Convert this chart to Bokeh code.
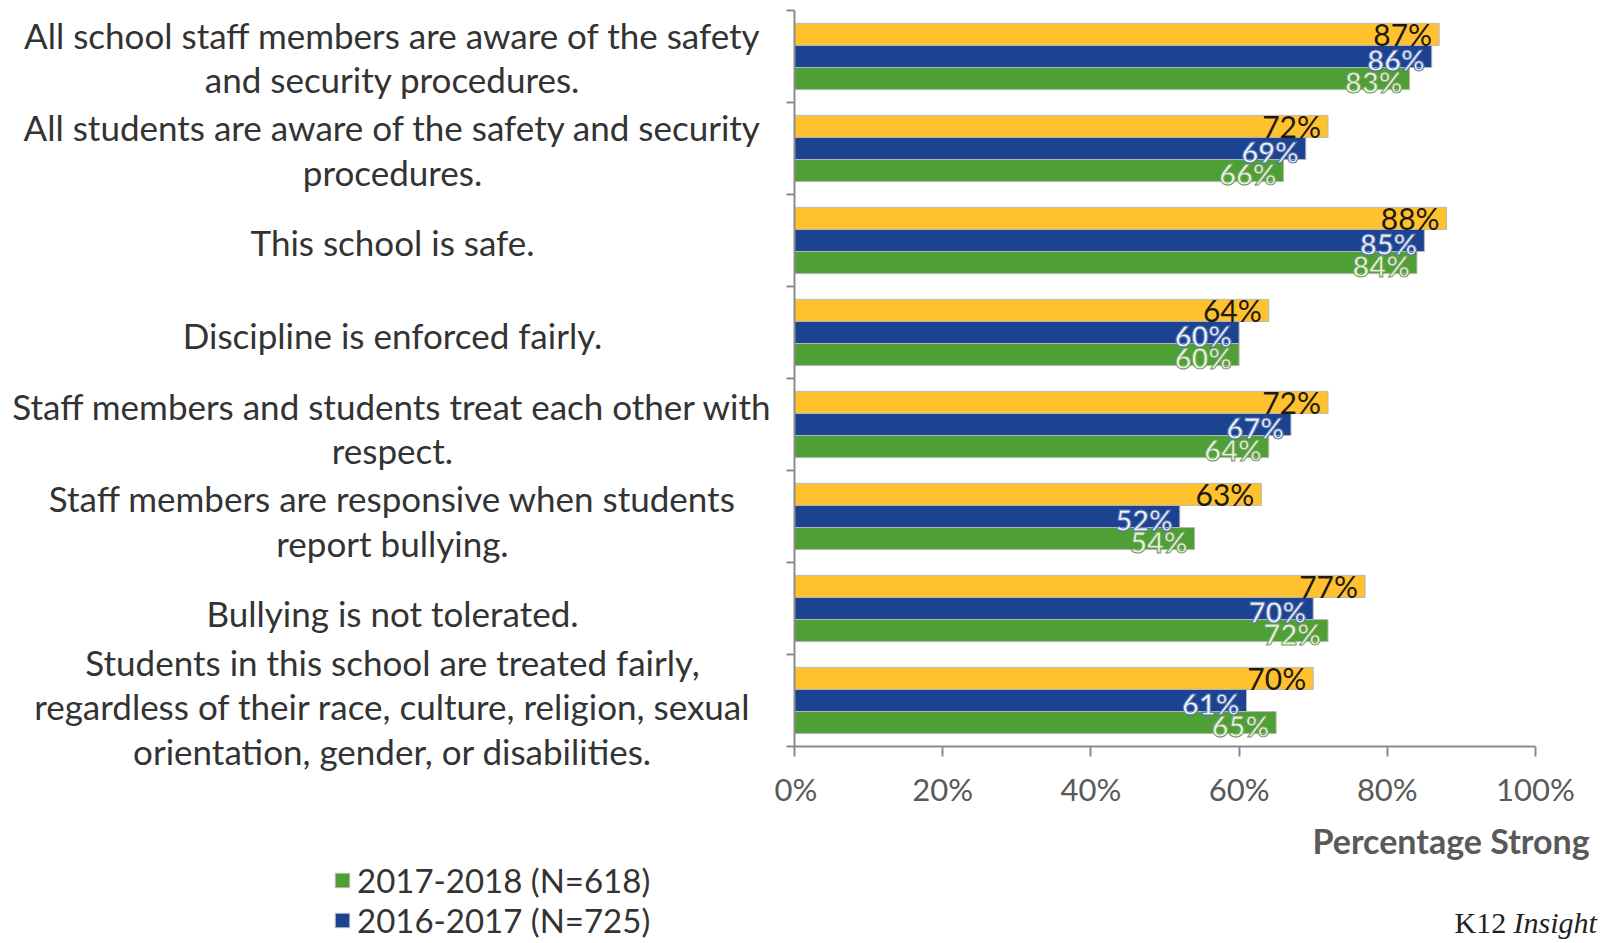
from bokeh.plotting import figure
from bokeh.layouts import row, column
from bokeh.models import (Range1d, FixedTicker, PrintfTickFormatter, CustomJSTickFormatter,
                          Legend, LegendItem, ColumnDataSource)
from bokeh.core.properties import value
from bokeh.embed import file_html
from bokeh.resources import INLINE

# ---------------- data ----------------
categories = [
    "All school staff members are aware of the safety\nand security procedures.",
    "All students are aware of the safety and security\nprocedures.",
    "This school is safe.",
    "Discipline is enforced fairly.",
    "Staff members and students treat each other with\nrespect.",
    "Staff members are responsive when students\nreport bullying.",
    "Bullying is not tolerated.",
    "Students in this school are treated fairly,\nregardless of their race, culture, religion, sexual\norientation, gender, or disabilities.",
]
vals_2018_2019 = [87, 72, 88, 64, 72, 63, 77, 70]
vals_2016_2017 = [86, 69, 85, 60, 67, 52, 70, 61]
vals_2017_2018 = [83, 66, 84, 60, 64, 54, 72, 65]
legend_labels = ["2017-2018 (N=618)", "2016-2017 (N=725)"]
x_ticks = [0, 20, 40, 60, 80, 100]
axis_title = "Percentage Strong"
footer_a = "K12 "
footer_b = "Insight"

# ---------------- layout (pixels) ----------------
W, H = 1600, 940
FRAME_L, FRAME_R, FRAME_T, FRAME_B = 794, 1535, 10, 752
AXIS_PAD = 20
LW = FRAME_L - AXIS_PAD          # width of the label column
BW = W - LW                      # width of the bar chart
BH = 810                         # height of the bar chart
FH = H - BH                      # footer height

n = len(categories)
ypos = [n - i - 0.5 for i in range(n)]
bar_h = 0.24
px_per_unit = (FRAME_B - FRAME_T) / n

colors = {"y": "#FFC12E", "b": "#1B4391", "g": "#4E9F34"}
outline = "#B8B8B8"

# ---------------- bar chart ----------------
p = figure(width=BW, height=BH, x_range=Range1d(0, 100), y_range=Range1d(0, n),
           output_backend="svg", toolbar_location=None,
           min_border_left=AXIS_PAD, min_border_right=W - FRAME_R,
           min_border_top=FRAME_T, min_border_bottom=BH - FRAME_B)
p.frame_align = False
p.xgrid.visible = False
p.ygrid.visible = False
p.outline_line_color = None

series = [
    (vals_2018_2019, colors["y"], bar_h, "#1E1A12", None, 0, "normal"),
    (vals_2016_2017, colors["b"], 0.0, "#EEF4FF", "#5470A8", 3, "bold"),
    (vals_2017_2018, colors["g"], -bar_h, "#E4F7D4", "#6F9A5F", 3, "bold"),
]
sources = []
for vals, col, off, tcol, ocol, yoff, style in series:
    src = ColumnDataSource(dict(y=[y + off for y in ypos], v=vals,
                                lab=[f"{v}%" for v in vals]))
    sources.append((src, tcol, ocol, yoff, style))
    p.hbar(y="y", left=0, right="v", height=bar_h, source=src,
           fill_color=col, line_color=outline, line_width=1)
for src, tcol, ocol, yoff, style in sources:
    p.text(x="v", y="y", text="lab", source=src, text_align="right",
           text_baseline="middle", x_offset=-7, y_offset=yoff,
           text_font=value("Lato"), text_font_size="29px" if style == "bold" else "30px",
           text_font_style=style, text_color=tcol, text_outline_color=ocol)

ax_col = "#8C8C8C"
xa = p.xaxis[0]
xa.ticker = FixedTicker(ticks=x_ticks)
xa.formatter = PrintfTickFormatter(format="%d%%")
xa.axis_line_color = ax_col
xa.axis_line_width = 2
xa.major_tick_line_color = ax_col
xa.major_tick_line_width = 2
xa.major_tick_out = 10
xa.major_tick_in = 0
xa.minor_tick_line_color = None
xa.major_label_text_font = "Lato"
xa.major_label_text_font_size = "31px"
xa.major_label_text_color = "#595959"
xa.major_label_standoff = 13

ya = p.yaxis[0]
ya.ticker = FixedTicker(ticks=list(range(n + 1)))
ya.formatter = CustomJSTickFormatter(code="return ''")
ya.axis_line_color = ax_col
ya.axis_line_width = 2
ya.major_tick_line_color = ax_col
ya.major_tick_line_width = 2
ya.major_tick_out = 8
ya.major_tick_in = 0
ya.major_label_standoff = 0
ya.minor_tick_line_color = None

# ---------------- category label column ----------------
y_top = n + FRAME_T / px_per_unit
y_bot = -(H - FRAME_B) / px_per_unit
lp = figure(width=LW, height=H, x_range=Range1d(0, LW), y_range=Range1d(y_bot, y_top),
            output_backend="svg", toolbar_location=None,
            x_axis_type=None, y_axis_type=None,
            min_border_left=0, min_border_right=0, min_border_top=0, min_border_bottom=0)
lp.frame_align = False
lp.outline_line_color = None
lp.xgrid.visible = False
lp.ygrid.visible = False
lp.text(x=[392] * n, y=ypos, text=categories, text_align="center", text_baseline="middle",
        text_font=value("Lato"), text_font_size="35px", text_color="#333333",
        text_line_height=1.06)

# legend swatches share the bar colours (their single bar sits outside the view)
off_view = dict(y=[y_bot - 10], l=[0], r=[1])
lg_g = lp.hbar(y="y", left="l", right="r", height=0.2, source=ColumnDataSource(off_view),
               fill_color=colors["g"], line_color=outline)
lg_b = lp.hbar(y="y", left="l", right="r", height=0.2, source=ColumnDataSource(off_view),
               fill_color=colors["b"], line_color=outline)
legend = Legend(items=[LegendItem(label=legend_labels[0], renderers=[lg_g]),
                       LegendItem(label=legend_labels[1], renderers=[lg_b])],
                location=(333, 0), orientation="vertical",
                glyph_width=18, glyph_height=18, label_standoff=6,
                label_text_font="Lato", label_text_font_size="33px",
                label_text_color="#333333", padding=0, margin=0, spacing=-10,
                border_line_color=None, background_fill_alpha=0)
lp.add_layout(legend, "center")

# ---------------- footer under the bar chart ----------------
fp = figure(width=BW, height=FH, x_range=Range1d(0, BW), y_range=Range1d(0, FH),
            output_backend="svg", toolbar_location=None,
            x_axis_type=None, y_axis_type=None,
            min_border_left=0, min_border_right=0, min_border_top=0, min_border_bottom=0)
fp.frame_align = False
fp.outline_line_color = None
fp.xgrid.visible = False
fp.ygrid.visible = False
fp.text(x=[1312 - LW], y=[FH - (840 - BH)], text=[axis_title], text_align="left",
        text_baseline="middle", text_font=value("Lato"), text_font_style="bold",
        text_font_size="34px", text_color="#595959")
fp.text(x=[1454 - LW], y=[FH - (922 - BH)], text=[footer_a], text_align="left",
        text_baseline="middle", text_font=value("Liberation Serif"),
        text_font_size="30px", text_color="#222222")
fp.text(x=[1513 - LW], y=[FH - (922 - BH)], text=[footer_b], text_align="left",
        text_baseline="middle", text_font=value("Liberation Serif"), text_font_style="italic",
        text_font_size="30px", text_color="#222222")

layout = row(lp, column(p, fp))
open("out.html", "w").write(file_html(layout, INLINE))
